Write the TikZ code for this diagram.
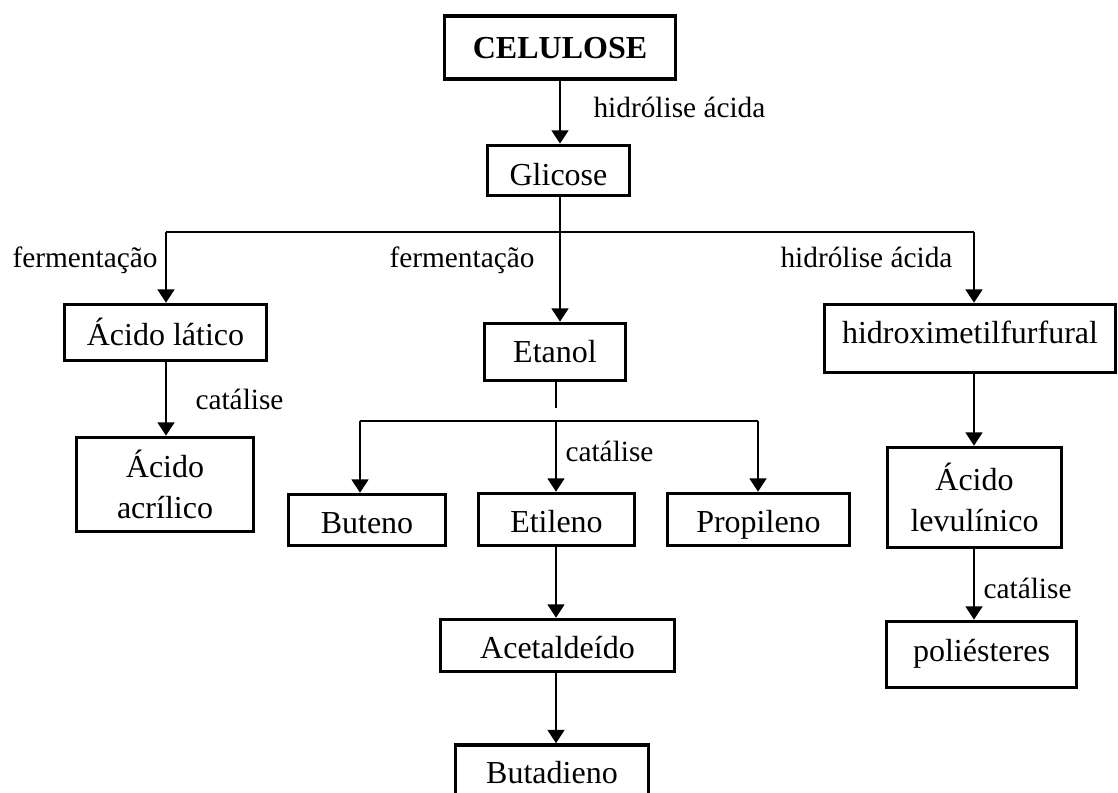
\documentclass[tikz,border=0pt]{standalone}
\usepackage{fontspec}
\setmainfont{Liberation Serif}
\usetikzlibrary{arrows.meta}

\begin{document}
\begin{tikzpicture}[x=0.375pt, y=-0.375pt,
	every node/.style={font=\fontsize{12}{15.4}\selectfont},
	box/.style={draw, line width=1.3pt, inner sep=0pt, align=center},
	bl/.style={text height=#1, text depth=0pt},
	lbl/.style={anchor=base west, inner sep=0pt, font=\fontsize{11}{13}\selectfont},
	arr/.style={line width=1.05pt, -{Triangle[width=6.2pt,length=5pt]}},
	link/.style={line width=0.6pt}]
	\useasboundingbox (0,0) rectangle (1118,793);
	\clip (0,0) rectangle (1118,793);

	% boxes
	\node[box, bl=7.9pt, minimum width=86.6pt, minimum height=23.6pt, font=\fontsize{12}{15}\selectfont\bfseries] (cel) at (560,47.5) {CELULOSE};
	\node[box, bl=11.6pt, minimum width=53.3pt, minimum height=18.8pt] (gli) at (558.5,170.5) {Glicose};
	\node[box, bl=9.4pt, minimum width=75.8pt, minimum height=21pt] (alat) at (165.5,332.5) {Ácido lático};
	\node[box, minimum width=66.4pt, minimum height=35.3pt] (aacr) at (165,484.5) {Ácido\\acrílico};
	\node[box, bl=8.25pt, minimum width=52.9pt, minimum height=21.4pt] (eta) at (555,352) {Etanol};
	\node[box, bl=10.1pt, minimum width=58.9pt, minimum height=19.1pt] (but) at (367,520) {Buteno};
	\node[box, bl=10.1pt, minimum width=58.5pt, minimum height=19.5pt] (eti) at (556.5,519.5) {Etileno};
	\node[box, bl=10.1pt, minimum width=68.3pt, minimum height=19.5pt] (pro) at (758.5,519.5) {Propileno};
	\node[box, bl=10.1pt, minimum width=87.8pt, minimum height=19.5pt] (ace) at (557.5,645.5) {Acetaldeído};
	\node[box, bl=6pt, minimum width=72.4pt, minimum height=22.5pt] (bud) at (552,775) {Butadieno};
	\node[box, bl=4.1pt, minimum width=109.1pt, minimum height=25.5pt] (hmf) at (970,338.5) {hidroximetilfurfural};
	\node[box, minimum width=65.3pt, minimum height=37.5pt] (alev) at (974.5,497.5) {Ácido\\levulínico};
	\node[box, bl=5.6pt, minimum width=71.3pt, minimum height=24.8pt] (pol) at (981.5,654.5) {poliésteres};

	% labels
	\node[lbl] (l1) at (593,118) {hidrólise ácida};
	\node[lbl] (l2) at (12,268) {fermentação};
	\node[lbl] (l3) at (389,268) {fermentação};
	\node[lbl] (l4) at (780,268) {hidrólise ácida};
	\node[lbl] (l5) at (195,410) {catálise};
	\node[lbl] (l6) at (565,462) {catálise};
	\node[lbl] (l7) at (983,598) {catálise};

	% branch points
	\coordinate (j1) at (560,232);
	\coordinate (j1a) at (560,250);
	\coordinate (jl) at (166,232);
	\coordinate (jr) at (974,232);
	\coordinate (e1) at (556,408);
	\coordinate (j2) at (556,421);
	\coordinate (j2l) at (360,421);
	\coordinate (j2r) at (758,421);

	% connectors
	\draw[arr] (cel.south) -- (cel.south |- gli.north);
	\draw[link] (gli.south -| j1) -- (j1a);
	\draw[link] (jl) -- (jr);
	\draw[arr] (jl) -- (jl |- alat.north);
	\draw[arr] (j1a) -- (j1a |- eta.north);
	\draw[arr] (jr) -- (jr |- hmf.north);
	\draw[arr] (alat.south -| jl) -- (jl |- aacr.north);
	\draw[link] (eta.south -| e1) -- (e1);
	\draw[link] (j2l) -- (j2r);
	\draw[arr] (j2l) -- (j2l |- but.north);
	\draw[arr] (j2) -- (j2 |- eti.north);
	\draw[arr] (j2r) -- (j2r |- pro.north);
	\draw[arr] (eti.south -| j2) -- (j2 |- ace.north);
	\draw[arr] (ace.south -| j2) -- (j2 |- bud.north);
	\draw[arr] (hmf.south -| jr) -- (jr |- alev.north);
	\draw[arr] (alev.south -| jr) -- (jr |- pol.north);
\end{tikzpicture}
\end{document}
